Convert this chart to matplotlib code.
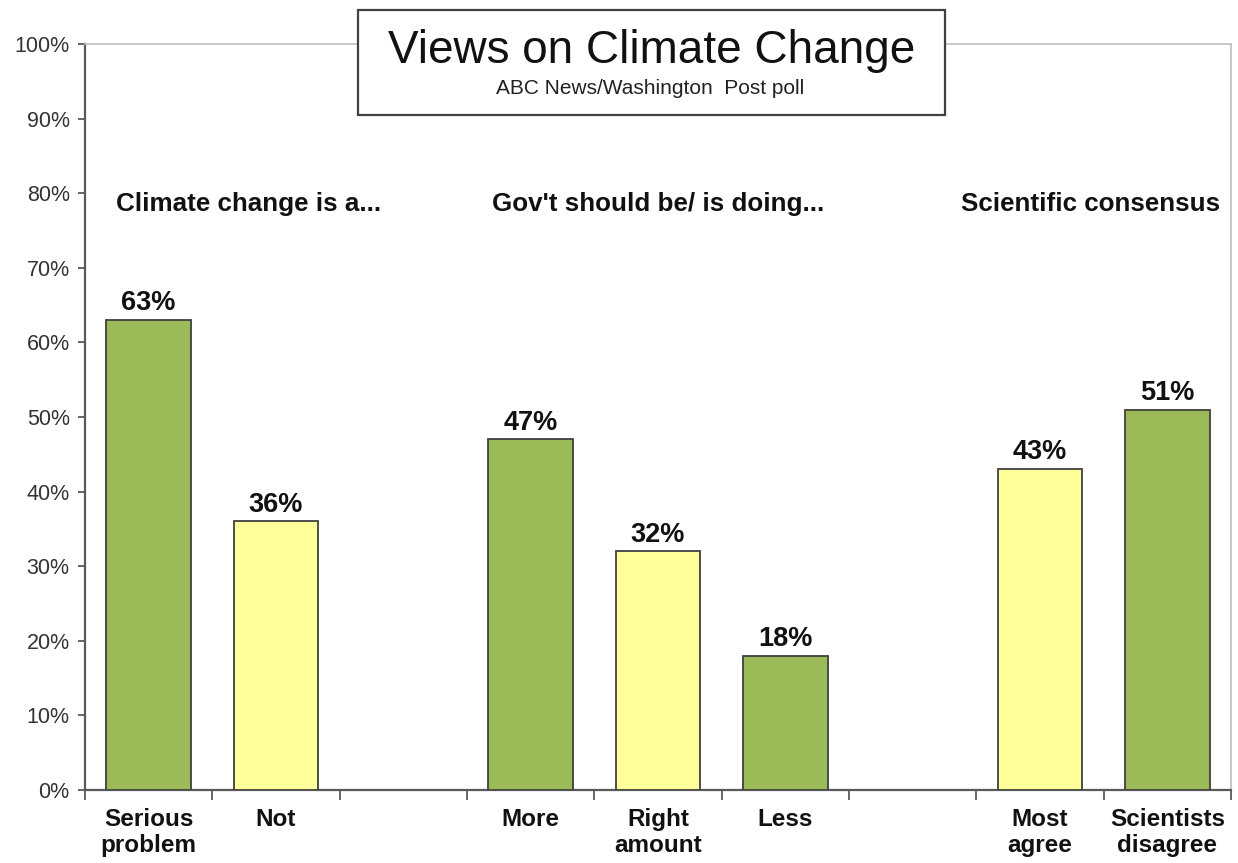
import numpy as np
import matplotlib
matplotlib.use('Agg')
import matplotlib.pyplot as plt
from matplotlib.patches import Rectangle

plt.rcParams['font.family'] = ['Liberation Sans', 'DejaVu Sans']

# data
groups = ['Climate change is a...', "Gov't should be/ is doing...", 'Scientific consensus']
group_cats = [['Serious\nproblem', 'Not'],
              ['More', 'Right\namount', 'Less'],
              ['Most\nagree', 'Scientists\ndisagree']]
group_vals = [[63, 36],
              [47, 32, 18],
              [43, 51]]

green = '#9BBB59'
yellow = '#FFFF99'
edge = '#404040'

# slot positions, one empty slot between groups
pos, cats, vals = [], [], []
slot = 0
group_mid = []
for gc, gv in zip(group_cats, group_vals):
  p = list(range(slot, slot + len(gc)))
  pos += p
  cats += gc
  vals += gv
  group_mid.append(np.mean(p))
  slot += len(gc) + 1
nslots = slot - 1
cols = [green if k % 2 == 0 else yellow for k in range(len(vals))]

fig = plt.figure(figsize=(12.38, 8.63), dpi=100)
ax = fig.add_axes([85/1238, 73/863, (1231-85)/1238, (790-44)/863])

ax.bar(pos, vals, width=0.667, color=cols, edgecolor=edge, linewidth=1.3, zorder=3)
for p, v in zip(pos, vals):
  ax.annotate('%d%%' % v, (p, v), xytext=(0, 7), textcoords='offset points',
              ha='center', va='baseline', fontsize=19.5, fontweight='bold', color='#111111')

ax.set_xlim(-0.5, nslots - 0.5)
ax.set_ylim(0, 100)
ax.set_yticks(np.arange(0, 101, 10))
ax.set_yticklabels(['%d%%' % t for t in range(0, 101, 10)])
ax.tick_params(axis='y', length=5, width=1.3, color='#595959', pad=6,
               labelsize=15.5, labelcolor='#333333')

ax.set_xticks(pos)
ax.set_xticklabels(cats, fontsize=17.5, fontweight='bold', linespacing=1.15)
ax.tick_params(axis='x', which='major', length=0, pad=13, labelcolor='#111111')
ax.set_xticks(np.arange(-0.5, nslots, 1.0), minor=True)
ax.tick_params(axis='x', which='minor', length=7, width=1.3, color='#595959', direction='out')

for s in ['left', 'bottom']:
  ax.spines[s].set_color('#595959')
  ax.spines[s].set_linewidth(1.6)
for s in ['top', 'right']:
  ax.spines[s].set_color('#BFBFBF')
  ax.spines[s].set_linewidth(1.2)

# group headings
head_x = [0.787, group_mid[1], 7.394]
for gx, g in zip(head_x, groups):
  ax.text(gx, 77.6, g, ha='center', va='baseline', fontsize=18.7, fontweight='bold', color='#111111')

# title box
box = Rectangle((358/1238, 1 - 115/863), (945-358)/1238, 105/863, transform=fig.transFigure,
                facecolor='white', edgecolor='#404040', linewidth=1.6, zorder=5)
fig.add_artist(box)
fig.text(0.5263, 1 - 51/863, 'Views on Climate Change', ha='center', va='center',
         fontsize=33, color='#111111', zorder=6)
fig.text(0.5255, 1 - 88/863, 'ABC News/Washington  Post poll', ha='center', va='center',
         fontsize=15, color='#222222', zorder=6)

fig.savefig('out.png', dpi=100)
